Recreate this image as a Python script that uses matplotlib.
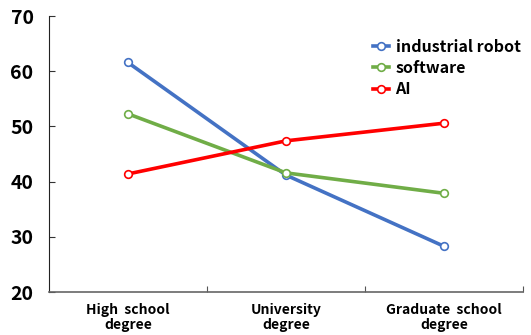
import matplotlib.pyplot as plt

plt.rcParams['font.family'] = ['Noto Sans CJK KR', 'DejaVu Sans']
plt.rcParams['font.weight'] = 'bold'

# Share of respondents by education level
levels = ['High  school\ndegree', 'University\ndegree', 'Graduate  school\ndegree']
industrial_robot = [61.6, 41.2, 28.3]
software = [52.3, 41.6, 37.9]
ai = [41.4, 47.4, 50.6]

series = [
    ('industrial robot', industrial_robot, '#4472C4'),
    ('software', software, '#70AD47'),
    ('AI', ai, '#FF0000'),
]

fig = plt.figure(figsize=(5.31, 3.35), dpi=100)
ax = fig.add_axes([0.092, 0.128, 0.893, 0.824])

x = range(len(levels))
for name, vals, col in series:
    ax.plot(x, vals, color=col, lw=2.6, marker='o', ms=5.5,
            markerfacecolor='white', markeredgecolor=col, markeredgewidth=1.2,
            label=name, zorder=3)

ax.set_xlim(-0.5, 2.5)
ax.set_ylim(20, 70)
ax.set_yticks(range(20, 71, 10))
ax.tick_params(axis='y', direction='in', length=4, labelsize=14, pad=11, color='#333333')
ax.set_xticks([0.5, 1.5, 2.5])
ax.set_xticklabels([])
ax.set_xticks(list(x), minor=True)
ax.set_xticklabels(levels, minor=True, fontsize=10, linespacing=1.1)
ax.tick_params(axis='x', which='major', direction='in', length=4, color='#555555')
ax.tick_params(axis='x', which='minor', length=0, pad=8)
for lab in ax.get_yticklabels():
    lab.set_fontweight('heavy')

ax.spines['top'].set_visible(False)
ax.spines['right'].set_visible(False)
ax.spines['left'].set_color('#222222')
ax.spines['bottom'].set_color('#666666')
ax.spines['bottom'].set_linewidth(1.2)

ax.legend(loc='upper right', bbox_to_anchor=(1.025, 0.97), frameon=False,
          handlelength=1.0, handletextpad=0.4, labelspacing=0.33,
          prop={'weight': 'bold', 'size': 11.5})

fig.savefig('out.png', dpi=100)
